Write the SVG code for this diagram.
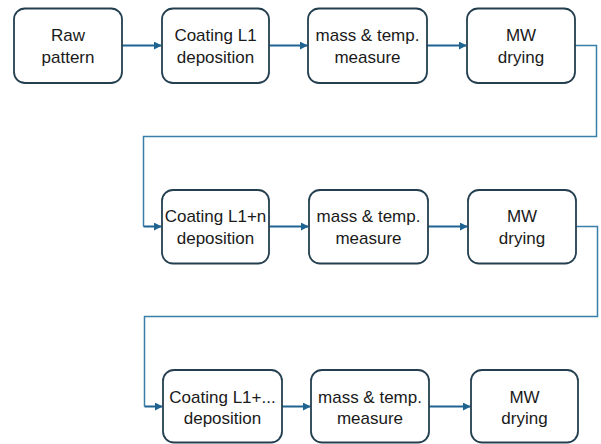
<svg xmlns="http://www.w3.org/2000/svg" width="601" height="444" viewBox="0 0 601 444">
<style>
.box{fill:#ffffff;stroke:#243f4f;stroke-width:1.8}
.t{font-family:"Liberation Sans",Arial,sans-serif;font-size:17px;fill:#1a1a1a;text-anchor:middle}
.arr{fill:none;stroke:#1f6391;stroke-width:2}
.loop{fill:none;stroke:#3a7fa8;stroke-width:1.5}
</style>
<defs>
<marker id="ah" viewBox="0 0 10 10" refX="9" refY="5" markerWidth="4" markerHeight="4" orient="auto" markerUnits="strokeWidth">
<path d="M0,0 L10,5 L0,10 Z" fill="#1f6391"/>
</marker>
</defs>
<rect width="601" height="444" fill="#ffffff"/>
<g id="connectors">
<path class="arr" d="M122,45.5 H161" marker-end="url(#ah)"/>
<path class="arr" d="M269,45.5 H307" marker-end="url(#ah)"/>
<path class="arr" d="M427,45.5 H466" marker-end="url(#ah)"/>
<path class="loop" d="M575,45.5 H596.5 V136.5 H143.5 V226.5"/>
<path class="arr" d="M143.5,226.5 H161" marker-end="url(#ah)"/>
<path class="arr" d="M269,226.5 H308" marker-end="url(#ah)"/>
<path class="arr" d="M428,226.5 H467" marker-end="url(#ah)"/>
<path class="loop" d="M576,226.5 H597.5 V316.5 H144.5 V406.5"/>
<path class="arr" d="M144.5,406.5 H162" marker-end="url(#ah)"/>
<path class="arr" d="M282,406.5 H310" marker-end="url(#ah)"/>
<path class="arr" d="M429,406.5 H470" marker-end="url(#ah)"/>
</g>
<g id="raw-pattern">
<rect class="box" x="14" y="8.5" width="108" height="74.5" rx="11"/>
<text class="t" x="68" y="41">Raw</text>
<text class="t" x="68" y="63">pattern</text>
</g>
<g id="coating-l1">
<rect class="box" x="162" y="8.5" width="107" height="74.5" rx="11"/>
<text class="t" x="215.5" y="41">Coating L1</text>
<text class="t" x="215.5" y="63">deposition</text>
</g>
<g id="measure-1">
<rect class="box" x="308" y="8.5" width="119" height="74.5" rx="11"/>
<text class="t" x="367.5" y="41">mass &amp; temp.</text>
<text class="t" x="367.5" y="63">measure</text>
</g>
<g id="mw-drying-1">
<rect class="box" x="467" y="8.5" width="108" height="74.5" rx="11"/>
<text class="t" x="521" y="41">MW</text>
<text class="t" x="521" y="63">drying</text>
</g>
<g id="coating-l1n">
<rect class="box" x="162" y="190" width="107" height="73.5" rx="11"/>
<text class="t" x="215.5" y="222">Coating L1+n</text>
<text class="t" x="215.5" y="244">deposition</text>
</g>
<g id="measure-2">
<rect class="box" x="309" y="190" width="119" height="73.5" rx="11"/>
<text class="t" x="368.5" y="222">mass &amp; temp.</text>
<text class="t" x="368.5" y="244">measure</text>
</g>
<g id="mw-drying-2">
<rect class="box" x="468" y="190" width="108" height="73.5" rx="11"/>
<text class="t" x="522" y="222">MW</text>
<text class="t" x="522" y="244">drying</text>
</g>
<g id="coating-l1dots">
<rect class="box" x="163" y="370" width="119" height="72.5" rx="11"/>
<text class="t" x="222.5" y="402.5">Coating L1+...</text>
<text class="t" x="222.5" y="424">deposition</text>
</g>
<g id="measure-3">
<rect class="box" x="311" y="370" width="118" height="72.5" rx="11"/>
<text class="t" x="370" y="402.5">mass &amp; temp.</text>
<text class="t" x="370" y="424">measure</text>
</g>
<g id="mw-drying-3">
<rect class="box" x="471" y="370" width="107" height="72.5" rx="11"/>
<text class="t" x="524.5" y="402.5">MW</text>
<text class="t" x="524.5" y="424">drying</text>
</g>
</svg>
